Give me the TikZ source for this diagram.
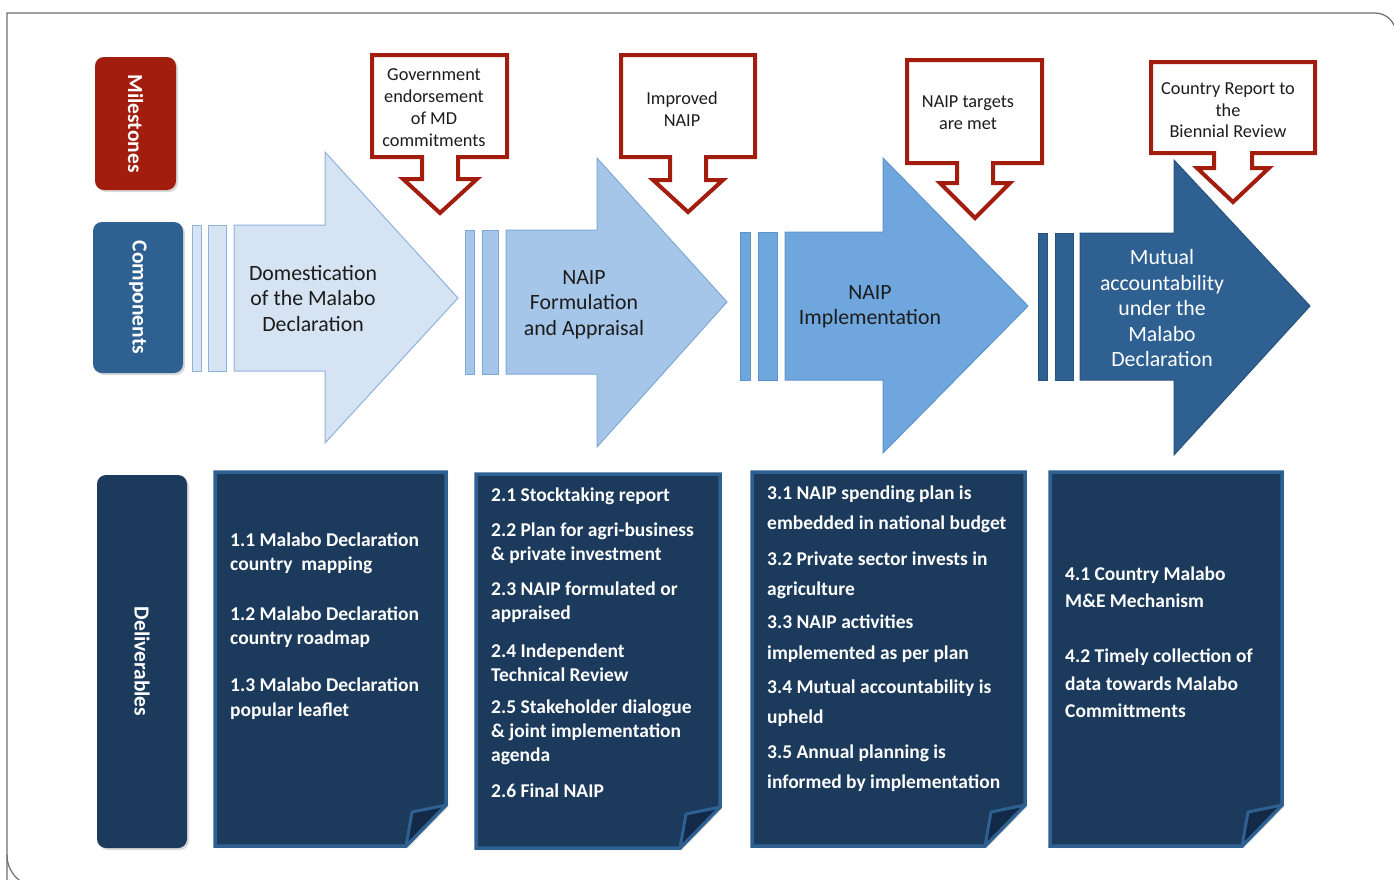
\documentclass[tikz,border=0pt]{standalone}
\usepackage{fontspec}
\setmainfont{Carlito}
\usetikzlibrary{shadows}

\definecolor{msred}{RGB}{163,29,14}
\definecolor{compblue}{RGB}{46,96,146}
\definecolor{delblue}{RGB}{27,58,92}
\definecolor{foldblue}{RGB}{18,42,72}
\definecolor{stageA}{RGB}{214,227,243}
\definecolor{stageAline}{RGB}{143,178,219}
\definecolor{stageB}{RGB}{166,198,233}
\definecolor{stageBline}{RGB}{128,168,214}
\definecolor{stageC}{RGB}{110,166,221}
\definecolor{stageCline}{RGB}{92,148,204}
\definecolor{stageD}{RGB}{46,96,146}
\definecolor{stageDline}{RGB}{38,82,128}
\definecolor{framegray}{RGB}{110,110,110}
\definecolor{textdark}{RGB}{28,28,28}

\newcommand{\tabtextfont}{\bfseries\fontsize{21.5}{24}\selectfont}

\tikzset{
  tab/.style={rounded corners=9pt, inner sep=0pt, text=white,
    drop shadow={opacity=0.3, shadow xshift=2pt, shadow yshift=-2pt}},
  callout/.style={draw=msred, line width=4pt, fill=white, line join=miter},
  calltext/.style={align=center, inner sep=0pt, text=textdark},
  stagetext/.style={align=center, inner sep=0pt, font=\fontsize{21.8}{25.5}\selectfont},
  delpage/.style={fill=delblue, draw=compblue, line width=3.5pt,
    drop shadow={opacity=0.3, shadow xshift=2pt, shadow yshift=-2pt}},
  fold/.style={fill=foldblue, draw=compblue, line width=3pt, line join=round},
  item/.style={anchor=west, align=left, inner sep=0pt, text=white,
    font=\bfseries\fontsize{19.5}{#1}\selectfont},
  item/.default=24.5
}

\begin{document}
\begin{tikzpicture}[x=1pt, y=-1pt]
    \useasboundingbox (0,0) rectangle (1394,879);

    % Frame
    \draw[framegray, line width=1.2pt] (7,900) -- (7,13) -- (1375,13)
        arc[start angle=270, end angle=360, radius=21] -- (1396,900);
    \draw[framegray, line width=1.2pt] (7,855)
        arc[start angle=180, end angle=90, radius=32] -- (1400,887);

    % Row labels
    \node[tab, fill=msred, minimum width=81pt, minimum height=133pt] (miles)
        at (135.5,123.5) {\rotatebox{-90}{\tabtextfont Milestones}};
    \node[tab, fill=compblue, minimum width=90pt, minimum height=151pt] (comps)
        at (138,297.5) {\rotatebox{-90}{\tabtextfont Components}};
    \node[tab, fill=delblue, minimum width=90pt, minimum height=373pt] (delivs)
        at (142,661.5) {\rotatebox{-90}{\tabtextfont Deliverables}};

    % Component arrows
    \begin{scope}[fill=stageA, draw=stageAline, line width=1pt]
        \filldraw (192,225) rectangle (201,371);
        \filldraw (208,225) rectangle (226,371);
        \filldraw (234,225) -- (325,225) -- (325,152) -- (458,298)
            -- (325,443) -- (325,371) -- (234,371) -- cycle;
    \end{scope}
    \begin{scope}[fill=stageB, draw=stageBline, line width=1pt]
        \filldraw (465,230) rectangle (474,374);
        \filldraw (482,230) rectangle (498,374);
        \filldraw (506,230) -- (597,230) -- (597,158) -- (727,302)
            -- (597,447) -- (597,374) -- (506,374) -- cycle;
    \end{scope}
    \begin{scope}[fill=stageC, draw=stageCline, line width=1pt]
        \filldraw (740,232) rectangle (750,380);
        \filldraw (758,232) rectangle (777,380);
        \filldraw (785,232) -- (883,232) -- (883,158) -- (1028,306)
            -- (883,453) -- (883,380) -- (785,380) -- cycle;
    \end{scope}
    \begin{scope}[fill=stageD, draw=stageDline, line width=1pt]
        \filldraw (1038,233) rectangle (1047,380);
        \filldraw (1055,233) rectangle (1073,380);
        \filldraw (1080,233) -- (1174,233) -- (1174,160) -- (1310,306)
            -- (1174,455) -- (1174,380) -- (1080,380) -- cycle;
    \end{scope}

    \node[stagetext, text=textdark] (comp1) at (313,298.5)
        {Domestication\\of the Malabo\\Declaration};
    \node[stagetext, text=textdark] (comp2) at (584,304.5)
        {NAIP\\Formulation\\and Appraisal};
    \node[stagetext, text=textdark] (comp3) at (870,307)
        {NAIP\\Implementation};
    \node[stagetext, text=white] (comp4) at (1162,308.5)
        {Mutual\\accountability\\under the\\Malabo\\Declaration};

    % Milestone callouts
    \draw[callout] (372,55) -- (507,55) -- (507,157) -- (458,157) -- (458,179)
        -- (477,179) -- (440,213) -- (403,179) -- (422,179) -- (422,157)
        -- (372,157) -- cycle;
    \draw[callout] (621,55) -- (755,55) -- (755,157) -- (706,157) -- (706,180)
        -- (723,180) -- (688,212) -- (653,180) -- (670,180) -- (670,157)
        -- (621,157) -- cycle;
    \draw[callout] (907,60) -- (1042,60) -- (1042,163) -- (993,163) -- (993,183)
        -- (1010,183) -- (975,218) -- (940,183) -- (957,183) -- (957,163)
        -- (907,163) -- cycle;
    \draw[callout] (1151,62) -- (1315,62) -- (1315,153) -- (1252,153) -- (1252,168)
        -- (1269,168) -- (1233,202) -- (1197,168) -- (1214,168) -- (1214,153)
        -- (1151,153) -- cycle;

    \node[calltext, font=\fontsize{18.3}{22}\selectfont] (mile1) at (434,108)
        {Government\\endorsement\\of MD\\commitments};
    \node[calltext, font=\fontsize{18.3}{22}\selectfont] (mile2) at (682,109)
        {Improved\\NAIP};
    \node[calltext, font=\fontsize{18.3}{22}\selectfont] (mile3) at (968,113)
        {NAIP targets\\are met};
    \node[calltext, font=\fontsize{18.3}{21.5}\selectfont] (mile4) at (1228,110.5)
        {Country Report to\\the\\Biennial Review};

    % Deliverable pages
    \foreach \l/\t/\r/\b in {215/472/446/846, 476/474/720/848,
                             752/472/1025/846, 1050/472/1282/846} {
        \filldraw[delpage] (\l,\t) -- (\r,\t) -- (\r,{\b-41}) -- ({\r-40},\b)
            -- (\l,\b) -- cycle;
        \filldraw[fold] (\r,{\b-41}) -- ({\r-34},{\b-34}) -- ({\r-40},\b) -- cycle;
    }

    \node[item] (d11) at (230,553.5) {1.1 Malabo Declaration\\country\ \ mapping};
    \node[item] (d12) at (230,627) {1.2 Malabo Declaration\\country roadmap};
    \node[item] (d13) at (230,698.5) {1.3 Malabo Declaration\\popular leaflet};

    \node[item=24] (d21) at (491,496) {2.1 Stocktaking report};
    \node[item=24] (d22) at (491,543.5) {2.2 Plan for agri-business\\\& private investment};
    \node[item=24] (d23) at (491,602) {2.3 NAIP formulated or\\appraised};
    \node[item=24] (d24) at (491,662.5) {2.4 Independent\\Technical Review};
    \node[item=24] (d25) at (491,732.5) {2.5 Stakeholder dialogue\\\& joint implementation\\agenda};
    \node[item=24] (d26) at (491,791) {2.6 Final NAIP};

    \node[item=30] (d31) at (767,509.5) {3.1 NAIP spending plan is\\embedded in national budget};
    \node[item=30] (d32) at (767,575) {3.2 Private sector invests in\\agriculture};
    \node[item=31] (d33) at (767,639) {3.3 NAIP activities\\implemented as per plan};
    \node[item=30] (d34) at (767,703.5) {3.4 Mutual accountability is\\upheld};
    \node[item=30] (d35) at (767,768.5) {3.5 Annual planning is\\informed by implementation};

    \node[item=27.5] (d41) at (1065,587) {4.1 Country Malabo\\M\&E Mechanism};
    \node[item=27.5] (d42) at (1065,683.5) {4.2 Timely collection of\\data towards Malabo\\Committments};
\end{tikzpicture}
\end{document}
